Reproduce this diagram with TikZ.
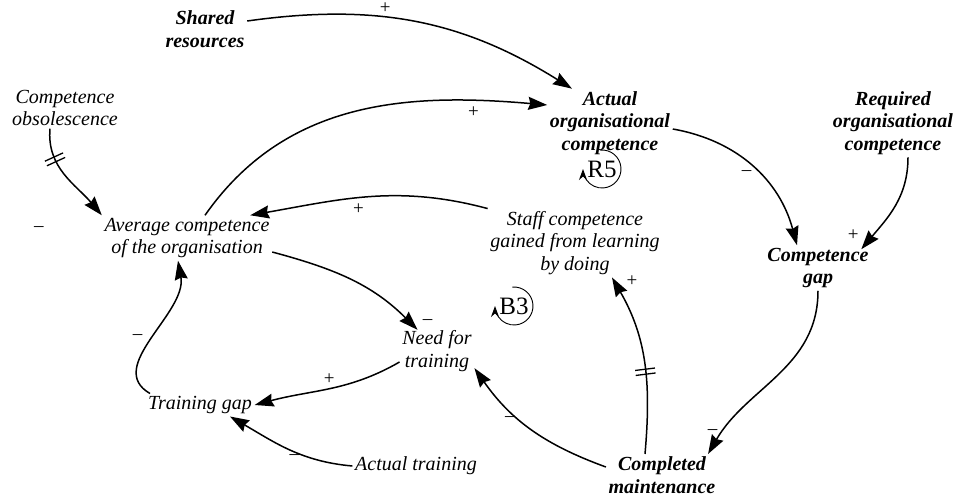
\documentclass[tikz,border=0pt]{standalone}
\usepackage{fontspec}
\setmainfont{Liberation Serif}
\usepackage{tikz}
\usetikzlibrary{arrows.meta,decorations.markings}
\tikzset{
  var/.style={align=center, inner sep=2pt, font=\fontsize{20}{22.5}\selectfont\itshape},
  keyvar/.style={var, font=\fontsize{20}{22.5}\selectfont\bfseries\itshape},
  sign/.style={inner sep=1pt, font=\fontsize{19}{19}\selectfont},
  loopname/.style={circle, minimum size=38pt, inner sep=0pt, outer sep=0pt, font=\fontsize{25}{25}\selectfont},
  looparc/.style={line width=.9pt, -{Stealth[length=11pt,width=8pt]}},
  delaymark/.style={postaction={decorate, decoration={markings,
      mark=at position #1 with {\draw[-, line width=1.3pt] (-2.5pt,-10pt) -- (-2.5pt,10pt) (2.5pt,-10pt) -- (2.5pt,10pt);}}}}
}

\begin{document}
\begin{tikzpicture}[x=1pt, y=1pt, ->, >={Stealth[length=19pt,width=13pt,inset=2pt]}, line width=1.5pt]
        \useasboundingbox (0,0) rectangle (961,-498);

        \node[keyvar] (shared_res) at (205,-29) {Shared\\resources};
        \node[var] (obsolescence) at (65,-108) {Competence\\obsolescence};
        \node[keyvar] (actual_comp) at (610,-123) {Actual\\organisational\\competence};
        \node[keyvar] (required_comp) at (893,-123) {Required\\organisational\\competence};
        \node[var] (avg_comp) at (187,-238) {Average competence\\of the organisation};
        \node[var] (staff_comp) at (575,-243) {Staff competence\\gained from learning\\by doing};
        \node[keyvar] (comp_gap) at (818,-268) {Competence\\gap};
        \node[var] (need_train) at (437,-351) {Need for\\training};
        \node[var] (train_gap) at (200,-405) {Training gap};
        \node[var] (actual_train) at (416,-466) {Actual training};
        \node[keyvar] (completed) at (662,-475) {Completed\\maintenance};

        % loop markers
        \node[loopname] (R5) at (602,-169) {R5};
        \node[loopname] (B3) at (514,-306) {B3};
        \draw[looparc] (R5.95) arc[start angle=95, end angle=-180, radius=19pt];
        \draw[looparc] (B3.95) arc[start angle=95, end angle=-180, radius=19pt];

        \path ([yshift=8pt]shared_res.east) edge[out=8, in=148] node[sign, pos=.40, above=2pt] {+} ([xshift=-38pt]actual_comp.north);
        \path ([xshift=-15pt]obsolescence.south) edge[out=-95, in=130, delaymark=.3] node[sign, at end, xshift=-63pt, yshift=-14pt] {--} (avg_comp.north west);
        \path ([xshift=18pt]avg_comp.north) edge[out=55, in=175] node[sign, pos=.82, below=4pt] {+} ([yshift=18pt]actual_comp.west);
        \path (staff_comp.north west) edge[out=165, in=10] node[sign, pos=.55, below=4pt] {+} ([xshift=-22pt]avg_comp.north east);
        \path ([yshift=-6pt]actual_comp.east) edge[out=-10, in=105] node[sign, pos=.55, left=6pt] {--} ([xshift=-21pt]comp_gap.north);
        \path ([xshift=15pt]required_comp.south) edge[out=-90, in=50] node[sign, at end, xshift=-8pt, yshift=14pt] {+} ([xshift=-10pt,yshift=-4pt]comp_gap.north east);
        \path (comp_gap.south) edge[out=-90, in=60] node[sign, pos=.88, left=4pt] {--} ([xshift=-10pt]completed.north east);
        \path ([yshift=8pt]completed.west) edge[out=160, in=-55] node[sign, pos=.6, left=3pt] {--} ([yshift=6pt]need_train.south east);
        \path ([xshift=-17pt]completed.north) edge[out=85, in=-60, delaymark=.45] node[sign, at end, xshift=20pt, yshift=-4pt] {+} ([xshift=37pt]staff_comp.south);
        \path ([yshift=-14pt]avg_comp.east) edge[out=-15, in=135] node[sign, at end, xshift=10pt, yshift=8pt] {--} ([xshift=18pt,yshift=-2pt]need_train.north west);
        \path ([yshift=-11pt]need_train.west) edge[out=210, in=15] node[sign, pos=.5, above=3pt] {+} (train_gap.east);
        \path (actual_train.west) edge[out=175, in=-30] node[sign, pos=.45, below=1pt] {--} ([xshift=30pt]train_gap.south);
        \path ([xshift=-50pt]train_gap.north) edge[out=150, in=-80] node[sign, pos=.5, left=6pt] {--} ([xshift=-9pt]avg_comp.south);
      \end{tikzpicture}
\end{document}
